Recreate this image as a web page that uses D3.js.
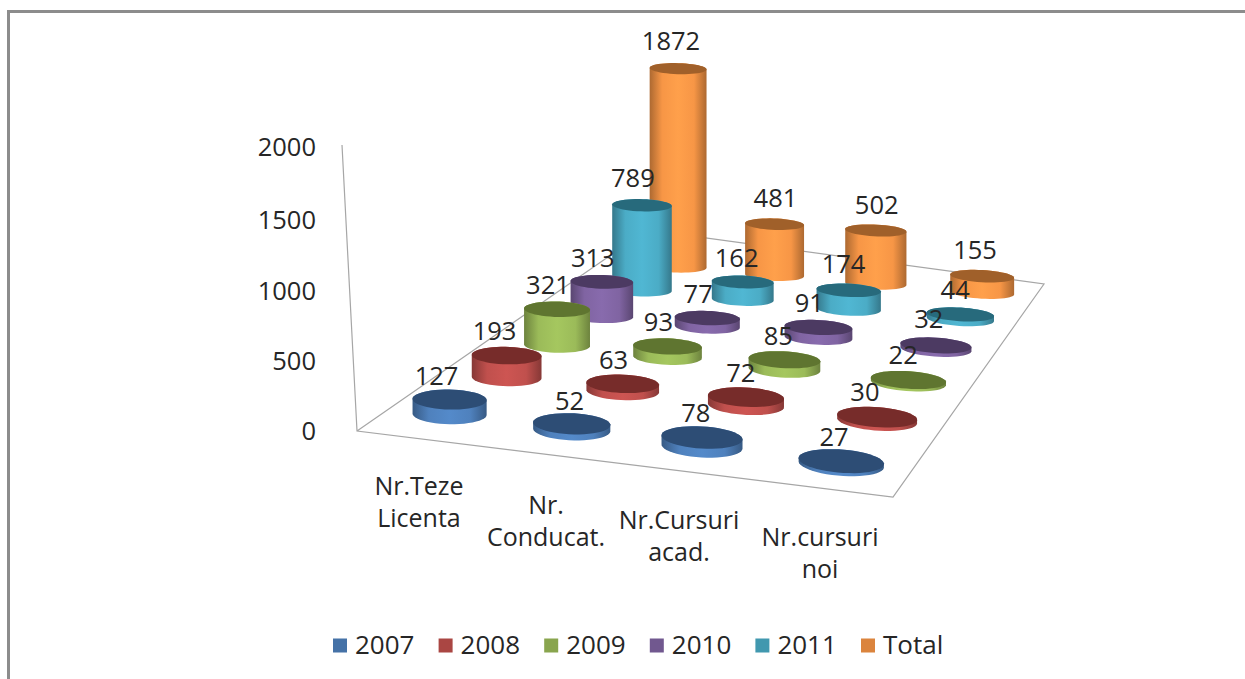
<!DOCTYPE html>
<html><head><meta charset="utf-8">
<script src="https://cdn.jsdelivr.net/npm/d3@7"></script>
<style>html,body{margin:0;padding:0;background:#fff}svg{display:block}text{font-family:"Open Sans",sans-serif;fill:#262626}</style>
</head><body><svg id="c" width="1245" height="679"></svg>
<script>
const categories = [["Nr.Teze","Licenta"],["Nr.","Conducat."],["Nr.Cursuri","acad."],["Nr.cursuri","noi"]];
const seriesNames = ["2007","2008","2009","2010","2011","Total"];
const v2007 = [127,52,78,27];
const v2008 = [193,63,72,30];
const v2009 = [321,93,85,22];
const v2010 = [313,77,91,32];
const v2011 = [789,162,174,44];
const vTotal = [1872,481,502,155];
const seriesValues = [v2007,v2008,v2009,v2010,v2011,vTotal];
const seriesColors = ["#4f81bd","#c0504d","#9bbb59","#8064a2","#4bacc6","#f79646"];
const legendColors = ["#4572a7","#aa4643","#89a54e","#71588f","#4198af","#db843d"];
const topColors = ["#2d4d75","#772c2a","#5f7530","#4c3a62","#276a7c","#a0602a"];
const axisTicks = [0,500,1000,1500,2000];
// small hand adjustments of value-label placement, keyed series-category
const labelNudge = {"5-0":[2,-4],"5-1":[10,-2],"5-2":[10,-2],"5-3":[2,-2],"4-0":[0,-3],"4-1":[3,0],"4-2":[4,-2],"4-3":[4,0],
  "3-3":[2,-2],"2-2":[3,0],"2-3":[4,-1],"1-0":[-3,-1],"1-2":[4,0],"1-3":[-3,-1],"0-0":[-4,0],"0-1":[7,1],"0-2":[3,0],"0-3":[2,0]};

const svg = d3.select("#c");
const defs = svg.append("defs");
svg.append("path").attr("d","M8.5,679V11.5H1245").attr("fill","none").attr("stroke","#8c8c8c").attr("stroke-width",3);

const FL=[357,431],FR=[893,497],BR=[1044,284],BL=[647,230];
const placeCorners=[[449.5,414],[841,464],[982,292.5],[678,267]];
function homography(p0,p1,p2,p3){
  const dx1=p1[0]-p2[0],dx2=p3[0]-p2[0],sx=p0[0]-p1[0]+p2[0]-p3[0];
  const dy1=p1[1]-p2[1],dy2=p3[1]-p2[1],sy=p0[1]-p1[1]+p2[1]-p3[1];
  const den=dx1*dy2-dx2*dy1;
  const g=(sx*dy2-dx2*sy)/den,h=(dx1*sy-sx*dy1)/den;
  const a=p1[0]-p0[0]+g*p1[0],b=p3[0]-p0[0]+h*p3[0],c=p0[0];
  const d=p1[1]-p0[1]+g*p1[1],e=p3[1]-p0[1]+h*p3[1],f=p0[1];
  return (u,v)=>{const w=g*u+h*v+1;return [(a*u+b*v+c)/w,(d*u+e*v+f)/w];};
}
const floor=homography(...placeCorners);
const uScale=d3.scalePoint().domain(d3.range(categories.length)).range([0,1]);
const vScale=d3.scalePoint().domain(d3.range(seriesNames.length)).range([0,1]);
const heightK=d3.scaleLinear().domain([0,5]).range([0.115,0.106]);
const ru=0.29*uScale.step(), rv=0.23*vScale.step();

const axisY=d3.scaleLinear().domain(axisTicks).range([431,361,291,220,147]);
svg.append("path").attr("d",d3.line()([[342,145],FL,FR,BR,BL,FL])).attr("fill","none").attr("stroke","#a6a6a6").attr("stroke-width",1.2);
svg.append("g").selectAll("text").data(axisTicks).join("text")
  .attr("x",316).attr("y",d=>axisY(d)).attr("dy","0.36em").attr("text-anchor","end")
  .attr("font-size",25.5).text(d=>d);

seriesColors.forEach((c,i)=>{
  const dark=d3.rgb(c).darker(1.0), mid=d3.rgb(c).brighter(0.18), base=d3.rgb(c);
  const g=defs.append("linearGradient").attr("id","g"+i);
  [[0,dark],[0.22,base],[0.5,mid],[0.78,base],[1,dark]].forEach(s=>g.append("stop").attr("offset",s[0]).attr("stop-color",s[1]));
});

const angles=d3.range(0,2*Math.PI,Math.PI/24);
const bars=svg.append("g"), labels=svg.append("g");
const lineClosed=d3.line().curve(d3.curveLinearClosed);
d3.range(seriesNames.length).reverse().forEach(s=>{
  d3.range(categories.length).forEach(k=>{
    const val=seriesValues[s][k];
    const cu=uScale(k), cv=vScale(s);
    const h=val*heightK(s);
    const base=angles.map(a=>floor(cu+ru*Math.cos(a),cv+rv*Math.sin(a)));
    const top=base.map(p=>[p[0],p[1]-h]);
    bars.append("path").attr("d",lineClosed(d3.polygonHull(base.concat(top)))).attr("fill",`url(#g${s})`);
    bars.append("path").attr("d",lineClosed(top)).attr("fill",topColors[s]);
    const c=floor(cu,cv), n=labelNudge[s+"-"+k]||[0,0];
    labels.append("text").attr("x",c[0]-9+n[0]).attr("y",c[1]-h-24+n[1]).attr("dy","0.36em").attr("text-anchor","middle")
      .attr("font-size",25.5).text(val);
  });
});

const catPos=[[419,486],[546,505],[679,520],[820,537]];
categories.forEach((lines,i)=>{
  lines.forEach((t,j)=>svg.append("text").attr("x",catPos[i][0]).attr("y",catPos[i][1]+j*32).attr("dy","0.36em")
    .attr("text-anchor","middle").attr("font-size",25).text(t));
});

const legendX=d3.scalePoint().domain(seriesNames).range([333,861]);
seriesNames.forEach((n,i)=>{
  svg.append("rect").attr("x",legendX(n)).attr("y",638.5).attr("width",14).attr("height",14).attr("fill",legendColors[i]);
  svg.append("text").attr("x",legendX(n)+22).attr("y",645).attr("dy","0.36em").attr("font-size",26).text(n);
});
</script></body></html>
